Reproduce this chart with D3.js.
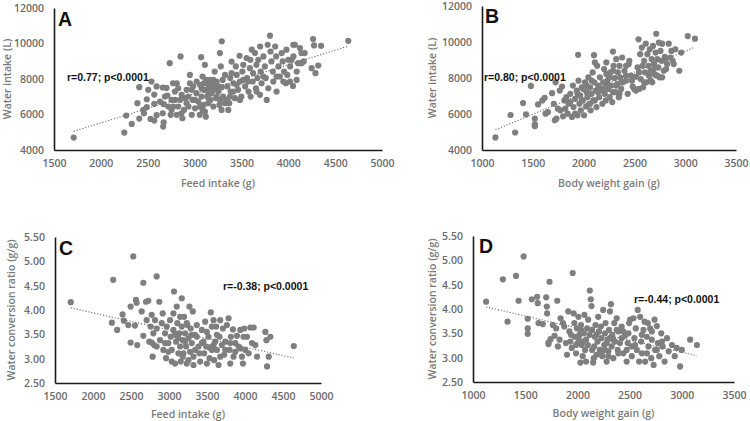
<!DOCTYPE html>
<html><head><meta charset="utf-8">
<script src="https://cdn.jsdelivr.net/npm/d3@7"></script>
<style>
html,body{margin:0;padding:0;background:#fff;}
svg{display:block;font-family:"Open Sans",sans-serif;}
</style></head>
<body><svg id="chart" width="750" height="421"></svg>
<script>
// ---------------- DATA ----------------
const feedTicks = [1500, 2000, 2500, 3000, 3500, 4000, 4500, 5000];
const bwgTicks = [1000, 1500, 2000, 2500, 3000, 3500];
const waterTicks = [4000, 6000, 8000, 10000, 12000];
const wcrTicks = [2.5, 3.0, 3.5, 4.0, 4.5, 5.0, 5.5];

// Panel A: feed intake (g) vs water intake (L)
const pointsA = [[1710,4700],[2250,4980],[2270,5940],[2330,5470],[2390,6640],[2410,7540],[2410,5770],[2490,6860],[2490,6410],[2460,6070],[2530,5750],[2540,7860],[2570,5660],[2570,6600],[2570,7120],[2595,5960],[2660,7520],[2665,5320],[2670,5560],[2660,6070],[2670,6580],[2700,7500],[2710,7070],[2735,8890],[2755,6260],[2755,6820],[2770,7760],[2790,7290],[2810,7760],[2810,5980],[2825,6450],[2845,6820],[2850,9270],[2860,6070],[2870,5790],[2900,6920],[2915,7390],[2935,6450],[2950,8230],[2950,7760],[2970,5980],[2980,6820],[2985,7580],[3005,6350],[3020,7200],[3040,6730],[3055,5980],[3070,9230],[3075,7010],[3085,8140],[3095,6540],[3100,7390],[3110,8800],[3110,6160],[3120,5880],[3130,7760],[3135,7010],[3145,6640],[3155,7580],[3165,7950],[3170,6820],[3180,7200],[3200,6450],[3200,7580],[3215,8420],[3230,6920],[3235,7860],[3255,7290],[3265,6540],[3270,9460],[3280,8710],[3290,10120],[3290,7540],[3300,7950],[3305,7010],[3325,8230],[3340,6820],[3350,7580],[3370,6640],[3380,8050],[3385,7290],[3395,8980],[3415,7760],[3430,6920],[3440,8710],[3450,8230],[3465,7390],[3480,9310],[3485,7860],[3500,7010],[3510,8420],[3520,8800],[3540,7580],[3555,9180],[3560,8050],[3575,7290],[3590,8610],[3595,9080],[3610,9650],[3620,7860],[3625,8330],[3645,9460],[3655,7480],[3660,8800],[3670,8050],[3680,9080],[3700,9830],[3705,8420],[3715,7760],[3735,9270],[3750,8710],[3760,8050],[3770,6820],[3780,9930],[3805,10440],[3810,9550],[3820,8990],[3835,8420],[3840,7860],[3860,9830],[3870,9270],[3875,7290],[3895,8710],[3910,8140],[3930,9460],[3940,8990],[3955,8420],[3975,7760],[3980,9650],[3990,8230],[4000,9080],[4020,8710],[4050,7610],[4055,9270],[4070,9930],[4090,8420],[4105,8890],[4125,9740],[4140,9460],[4165,8990],[4175,9460],[4265,10250],[4275,9890],[4290,8330],[4320,8760],[4350,9870],[4640,10150],
[3022,7860],[3058,7670],[3075,7480],[3100,7760],[3122,7950],[3129,7390],[3146,7110],[3157,6820],[3171,7290],[3182,7670],[3200,7950],[3218,7390],[3235,7010],[3253,7580],[3058,6450],[3086,6260],[3004,6820],[2969,7390],[2933,7010],[2915,6640],[2887,6260],[2862,7110],[2826,7480],[2791,6820],[2773,6450],[2745,5980],[2720,6450],[2684,7010],[2631,6730],[2595,7580],[2506,7390],[2453,6260],[3413,7290],[3449,7670],[3484,6820],[3520,7950],[3378,7010],[3360,6260],[3324,6640],[3288,6260],[3271,6820],[3395,8330],[3573,7860],[3598,7010],[3733,8140],[3787,7480],[3875,8140],[3947,7860],[4018,7860],[4089,7950],[4035,9080],[4053,9930],[4249,8610],[4142,8890],[3662,7290],[3698,7110]];

// Panel B: body weight gain (g) vs water intake (L)
const pointsB = [[1132,4697],[1281,5945],[1326,4973],[1404,6606],[1433,5982],[1481,7560],[1520,5743],[1520,5431],[1520,5321],[1552,6532],[1594,6753],[1617,6899],[1626,6018],[1649,6110],[1690,7156],[1707,6569],[1717,5652],[1724,7762],[1733,5743],[1746,6294],[1765,7303],[1772,6202],[1788,7523],[1798,5872],[1811,6753],[1820,6294],[1830,6936],[1843,6018],[1853,6569],[1869,7119],[1885,5835],[1895,7578],[1901,6386],[1917,6844],[1933,7303],[1940,5927],[1946,9285],[1950,7854],[1959,6569],[1966,7028],[1972,6202],[1982,7486],[1992,6753],[2005,5927],[2014,7762],[2024,6422],[2030,7211],[2037,6936],[2047,8037],[2056,6569],[2063,7486],[2069,6202],[2079,7119],[2089,8312],[2095,6753],[2102,9267],[2105,7762],[2111,8863],[2121,7303],[2127,6386],[2134,8679],[2143,7578],[2153,6936],[2160,8037],[2176,7395],[2185,6569],[2192,7762],[2202,8496],[2208,7119],[2218,6753],[2224,8863],[2234,7854],[2240,7395],[2256,6936],[2263,8312],[2273,7578],[2282,6661],[2289,9468],[2295,8679],[2305,8000],[2315,7211],[2321,9047],[2331,7670],[2337,8312],[2347,6936],[2353,8679],[2360,8037],[2370,7395],[2379,9138],[2386,7762],[2402,8404],[2418,7854],[2434,7119],[2444,8771],[2450,8955],[2466,8129],[2483,7523],[2499,7395],[2515,8074],[2531,8588],[2541,10147],[2547,7395],[2557,9322],[2563,7945],[2573,9689],[2580,8679],[2586,7486],[2596,8955],[2605,8312],[2612,9909],[2618,7762],[2628,9322],[2638,8679],[2644,8129],[2651,9597],[2660,8404],[2670,9047],[2676,7762],[2683,9780],[2692,8771],[2702,8184],[2709,9414],[2715,10459],[2725,9047],[2735,8588],[2741,9964],[2747,8037],[2757,9505],[2767,8955],[2773,9909],[2789,8404],[2799,9175],[2812,8496],[2822,8771],[2838,9909],[2854,9138],[2864,9505],[2877,8955],[2887,8771],[2903,9597],[2942,8404],[2961,9414],[3025,10331],[3096,10184],
[1940,7119],[1982,6753],[2030,7578],[2079,7854],[2111,6753],[2143,7211],[2192,7303],[2224,7578],[2256,8037],[2289,7211],[2321,7578],[2370,7762],[2418,8129],[2476,7854],[2515,7303],[2596,7762],[2660,7854],[2725,8129],[1998,7395],[2063,6569],[1917,6018],[1869,6661],[2224,8220],[2289,8404],[2353,7119],[2418,8679],[2547,8312],[2692,8496],[2773,8037],[2805,8955]];

// Panel C: feed intake (g) vs water conversion ratio (g/g)
const pointsC = [[1707,4.16],[2266,4.62],[2530,5.10],[2662,4.56],[2838,4.69],[2248,3.74],[2318,3.59],[2389,3.91],[2406,3.78],[2464,3.69],[2495,4.07],[2495,3.33],[2552,3.68],[2565,4.21],[2574,4.15],[2582,3.28],[2640,3.97],[2662,3.47],[2697,4.17],[2706,3.79],[2728,4.19],[2741,3.35],[2758,3.66],[2772,3.90],[2785,3.04],[2794,3.52],[2803,3.28],[2816,3.79],[2838,3.62],[2873,4.17],[2882,3.38],[2904,3.73],[2917,3.93],[2926,3.18],[2948,3.52],[2961,3.01],[2970,3.66],[2992,3.32],[3014,3.79],[3022,3.45],[3036,3.18],[3058,3.59],[3066,4.38],[3080,2.90],[3093,3.35],[3102,4.07],[3110,3.73],[3124,3.11],[3137,3.52],[3146,3.25],[3154,2.94],[3168,4.24],[3168,3.66],[3181,3.38],[3190,3.11],[3198,3.86],[3212,3.52],[3225,3.25],[3234,2.90],[3242,3.69],[3256,3.42],[3269,4.07],[3278,3.14],[3286,3.62],[3300,3.32],[3313,3.97],[3322,3.04],[3344,3.49],[3366,3.69],[3388,3.25],[3410,2.94],[3432,3.59],[3454,3.35],[3462,3.11],[3476,3.76],[3498,2.90],[3520,3.45],[3533,3.23],[3550,3.95],[3564,3.66],[3586,3.79],[3594,2.97],[3608,3.35],[3621,3.66],[3630,3.18],[3652,2.87],[3665,3.45],[3674,3.79],[3696,3.28],[3709,3.62],[3726,3.08],[3740,3.35],[3762,3.69],[3784,3.83],[3797,3.18],[3814,3.45],[3841,3.60],[3850,3.04],[3872,3.32],[3894,3.47],[3916,3.25],[3938,3.59],[3960,3.04],[3973,2.90],[3990,3.62],[4004,3.18],[4026,3.45],[4048,3.11],[4070,3.64],[4092,3.32],[4114,3.64],[4136,3.28],[4158,3.04],[4268,3.55],[4282,3.38],[4290,2.84],[4312,3.04],[4334,3.45],[4642,3.26],
[2992,3.14],[3036,2.94],[3080,3.49],[3124,3.42],[3181,3.04],[3212,3.35],[3234,3.73],[3256,2.97],[3300,3.49],[3344,3.18],[3366,3.45],[3401,3.11],[3432,3.32],[3489,3.25],[3533,3.01],[3586,3.28],[3630,3.49],[3674,3.04],[3740,3.18],[3806,3.32],[3872,3.14],[3938,3.21],[2948,3.32],[2838,3.25],[2772,3.33],[3146,3.86],[3058,3.93],[3498,3.55],[3564,3.18],[3806,2.90],[3981,3.45],[3322,2.87]];

// Panel D: body weight gain (g) vs water conversion ratio (g/g)
const pointsD = [[1125,4.15],[1286,4.61],[1331,3.74],[1412,4.68],[1437,4.17],[1485,5.08],[1524,3.80],[1524,3.60],[1524,3.49],[1563,4.20],[1614,4.25],[1620,4.12],[1627,3.71],[1669,3.69],[1701,4.24],[1707,4.05],[1710,3.91],[1723,3.31],[1723,3.28],[1733,4.56],[1743,3.38],[1765,3.67],[1781,3.45],[1797,3.60],[1807,4.17],[1813,3.23],[1829,3.37],[1839,3.81],[1862,3.71],[1874,3.64],[1890,3.30],[1900,3.06],[1913,3.95],[1923,3.54],[1933,3.33],[1946,3.20],[1955,4.74],[1965,3.91],[1971,3.71],[1977,3.43],[1987,3.09],[1996,3.60],[2003,3.30],[2010,3.84],[2019,3.47],[2029,2.90],[2035,3.67],[2042,3.26],[2051,3.03],[2061,3.50],[2067,3.88],[2074,3.16],[2083,3.37],[2093,3.60],[2103,3.78],[2119,4.38],[2128,4.20],[2135,4.06],[2141,3.57],[2151,2.90],[2161,3.23],[2167,3.43],[2173,3.67],[2183,3.06],[2193,3.33],[2199,3.84],[2206,3.54],[2215,3.16],[2225,3.64],[2231,3.40],[2238,3.03],[2247,3.98],[2257,3.26],[2264,3.50],[2270,3.71],[2280,2.92],[2289,3.37],[2296,3.13],[2302,3.57],[2312,3.95],[2321,4.10],[2328,3.23],[2334,3.47],[2344,2.99],[2353,3.71],[2360,3.33],[2376,3.81],[2386,3.16],[2392,3.54],[2408,3.30],[2424,3.64],[2440,3.09],[2456,3.45],[2472,2.92],[2482,3.30],[2495,3.71],[2505,3.78],[2521,3.23],[2537,3.81],[2546,3.40],[2559,3.60],[2569,3.16],[2578,3.98],[2591,2.92],[2601,3.84],[2611,3.33],[2617,3.09],[2633,3.57],[2643,3.74],[2649,2.92],[2665,3.43],[2675,3.71],[2681,3.23],[2697,3.60],[2707,2.99],[2713,3.37],[2730,2.85],[2739,3.78],[2745,3.16],[2761,3.65],[2771,3.30],[2784,3.03],[2803,3.50],[2816,3.23],[2835,2.92],[2858,3.40],[2874,3.13],[2906,3.26],[2932,3.03],[2951,3.20],[2984,2.82],[3000,3.16],[3080,3.37],[3145,3.26],
[2010,3.40],[2051,3.33],[2100,3.26],[2141,3.16],[2183,3.47],[2231,3.09],[2280,3.30],[2296,3.03],[2344,3.37],[2392,3.09],[2424,3.40],[2472,3.16],[2521,3.03],[2553,3.26],[2617,3.47],[2665,3.09],[2713,3.54],[2761,3.16],[2810,3.33],[2083,2.92],[2157,2.99],[2264,3.16],[2312,3.40],[2376,3.57],[2440,3.54],[2489,3.50],[1987,3.26],[1939,3.47],[2035,3.57],[2116,3.47]];

const panelLetters = ["A", "B", "C", "D"];
const xTitles = ["Feed intake (g)", "Body weight gain (g)", "Feed intake (g)", "Body weight gain (g)"];
const yTitles = ["Water intake (L)", "Water intake (L)", "Water conversion ratio (g/g)", "Water conversion ratio (g/g)"];
const statLabels = ["r=0.77; p<0.0001", "r=0.80; p<0.0001", "r=-0.38; p<0.0001", "r=-0.44; p<0.0001"];

// ---------------- LAYOUT ----------------
const layout = [
  {pts: pointsA, xt: feedTicks, yt: waterTicks, x0: 54, x1: 382, y0: 150, y1: 8, yfmt: d3.format("d"),
   letter: [58, 26], stat: [67, 81], xTitleY: 187, yTitleX: 11},
  {pts: pointsB, xt: bwgTicks, yt: waterTicks, x0: 482, x1: 736, y0: 150, y1: 6, yfmt: d3.format("d"),
   letter: [485, 23], stat: [484, 81], xTitleY: 187, yTitleX: 436},
  {pts: pointsC, xt: feedTicks, yt: wcrTicks, x0: 55, x1: 321, y0: 383, y1: 237, yfmt: d3.format(".2f"),
   letter: [59, 255], stat: [223, 290], xTitleY: 418, yTitleX: 15},
  {pts: pointsD, xt: bwgTicks, yt: wcrTicks, x0: 473, x1: 734, y0: 382, y1: 236, yfmt: d3.format(".2f"),
   letter: [479, 253], stat: [634, 303], xTitleY: 417, yTitleX: 436}
];

const svg = d3.select("#chart");
const tickColor = "#6b6b6b";
const titleColor = "#7a7a7a";

layout.forEach((L, i) => {
  const xs = d3.scaleLinear().domain([L.xt[0], L.xt[L.xt.length - 1]]).range([L.x0, L.x1]);
  const ys = d3.scaleLinear().domain([L.yt[0], L.yt[L.yt.length - 1]]).range([L.y0, L.y1]);
  const g = svg.append("g");

  // axes
  const ax = g.append("g").attr("transform", `translate(0,${L.y0})`)
    .call(d3.axisBottom(xs).tickValues(L.xt).tickSize(0).tickPadding(10).tickFormat(d3.format("d")));
  const ay = g.append("g").attr("transform", `translate(${L.x0},0)`)
    .call(d3.axisLeft(ys).tickValues(L.yt).tickSize(0).tickPadding(10).tickFormat(L.yfmt));
  [ax, ay].forEach(a => {
    a.select(".domain").attr("stroke", "#1a1a1a").attr("stroke-width", 1.6);
    a.selectAll("text").attr("fill", tickColor).attr("font-size", "10.5px").attr("font-weight", 600)
      .attr("font-family", "'Open Sans', sans-serif");
  });

  // points
  g.append("g").selectAll("circle").data(L.pts).join("circle")
    .attr("cx", d => xs(d[0])).attr("cy", d => ys(d[1])).attr("r", 3.1)
    .attr("fill", "#7f7f7f");

  // linear trendline from the data
  const mx = d3.mean(L.pts, d => d[0]), my = d3.mean(L.pts, d => d[1]);
  const sxy = d3.sum(L.pts, d => (d[0] - mx) * (d[1] - my));
  const sxx = d3.sum(L.pts, d => (d[0] - mx) ** 2);
  const slope = sxy / sxx, icpt = my - slope * mx;
  const [xmin, xmax] = d3.extent(L.pts, d => d[0]);
  g.append("line")
    .attr("x1", xs(xmin)).attr("y1", ys(icpt + slope * xmin))
    .attr("x2", xs(xmax)).attr("y2", ys(icpt + slope * xmax))
    .attr("stroke", "#6f6f6f").attr("stroke-width", 1.1).attr("stroke-dasharray", "1.2,1.8");

  // panel letter
  g.append("text").attr("x", L.letter[0]).attr("y", L.letter[1]).text(panelLetters[i])
    .attr("font-size", "19.5px").attr("font-weight", 700).attr("fill", "#111")
    .attr("font-family", "'Liberation Sans', Arial, sans-serif");

  // stat label
  g.append("text").attr("x", L.stat[0]).attr("y", L.stat[1]).text(statLabels[i])
    .attr("font-size", "10.5px").attr("font-weight", 700).attr("fill", "#111")
    .attr("font-family", "'Liberation Sans', Arial, sans-serif");

  // axis titles
  g.append("text").attr("x", (L.x0 + L.x1) / 2).attr("y", L.xTitleY).text(xTitles[i])
    .attr("text-anchor", "middle").attr("font-size", "10.5px").attr("font-weight", 600).attr("fill", titleColor);
  g.append("text").attr("transform", `translate(${L.yTitleX},${(L.y0 + L.y1) / 2}) rotate(-90)`)
    .text(yTitles[i]).attr("text-anchor", "middle")
    .attr("font-size", "10.5px").attr("font-weight", 600).attr("fill", titleColor);
});
</script>
</body></html>
